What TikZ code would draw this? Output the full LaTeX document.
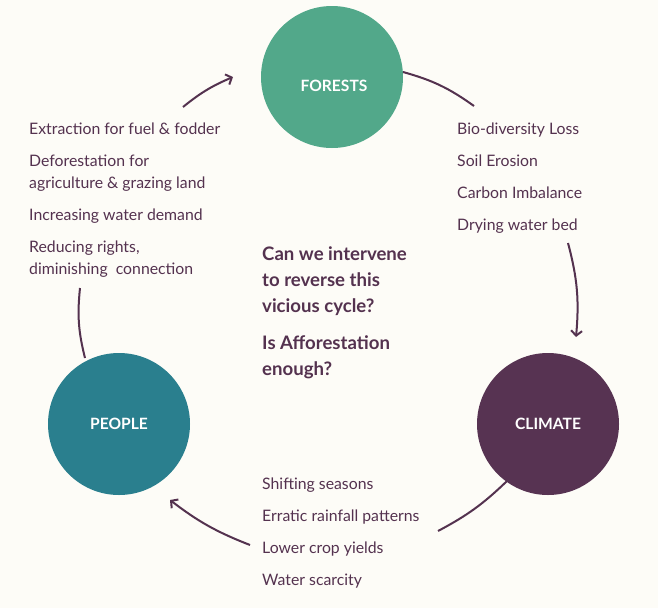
\documentclass[tikz,border=0pt]{standalone}
\usepackage{fontspec}
\setmainfont{Lato}
\usetikzlibrary{positioning, arrows.meta}
\definecolor{bgcream}{HTML}{FDFCF7}
\definecolor{forestgreen}{HTML}{52A88A}
\definecolor{peopleteal}{HTML}{2A7F8E}
\definecolor{climateplum}{HTML}{573352}
\definecolor{inkplum}{HTML}{54324F}
\tikzstyle{hub} = [circle, minimum size=142pt, inner sep=0pt, text=white, font=\bfseries\fontsize{15.6}{18}\selectfont]
\tikzstyle{item} = [anchor=base west, inner sep=0pt, align=left, text=inkplum, font=\fontsize{15.8}{22}\selectfont]
\tikzstyle{question} = [anchor=base west, inner sep=0pt, align=left, text=inkplum, font=\bfseries\fontsize{18.6}{26}\selectfont]
\tikzstyle{arrow} = [line width=2pt, draw=inkplum, -{Straight Barb[length=5pt, width=11pt, line width=2pt]}]
\tikzstyle{link} = [line width=2pt, draw=inkplum]

\begin{document}
\begin{tikzpicture}[x=1pt, y=-1pt]
        \useasboundingbox[fill=bgcream] (0,0) rectangle (658,608);
        %the three circles
        \node (forests) [hub, fill=forestgreen] at (332,77) {};
        \node (forestsText) [hub] at (334,86) {FORESTS};
        \node (climate) [hub, fill=climateplum] at (548,424) {CLIMATE};
        \node (people) [hub, fill=peopleteal] at (119,424) {PEOPLE};
        %what forests lose
        \node (loss) [item] at (457,134) {Bio-diversity Loss};
        \node (erosion) [item] at (457,166) {Soil Erosion};
        \node (carbon) [item] at (457,198) {Carbon Imbalance};
        \node (waterbed) [item] at (457,230) {Drying water bed};
        %what the climate does
        \node (seasons) [item] at (262,489) {Shifting seasons};
        \node (rainfall) [item] at (262,521) {Erratic rainfall patterns};
        \node (crops) [item] at (262,553) {Lower crop yields};
        \node (scarcity) [item] at (262,585) {Water scarcity};
        %what people do (base = last line)
        \node (extraction) [item] at (29,134) {Extraction for fuel \& fodder};
        \node (deforest) [item] at (29,188) {Deforestation for\\agriculture \& grazing land};
        \node (demand) [item] at (29,220) {Increasing water demand};
        \node (rights) [item] at (29,274) {Reducing rights,\\diminishing\ \ connection};
        %the question
        \node (intervene) [question] at (262,312) {Can we intervene\\to reverse this\\vicious cycle?};
        \node (enough) [question] at (262,375) {Is Afforestation\\enough?};
        %arrow ends
        \coordinate (a1) at (403,72);
        \coordinate (a2) at (474,106);
        \coordinate (b1) at (568,243);
        \coordinate (b2) at (576,337);
        \coordinate (c1) at (507,481);
        \coordinate (c2) at (438,531);
        \coordinate (d1) at (250,545);
        \coordinate (d2) at (170,500);
        \coordinate (e1) at (85,358);
        \coordinate (e2) at (80,288);
        \coordinate (f1) at (183,107);
        \coordinate (f2) at (233,77);
        %arrows
        \draw [link] (a1) to[bend left=10] (a2);
        \draw [arrow] (b1) to[bend left=10] (b2);
        \draw [link] (c1) to[bend left=8] (c2);
        \draw [arrow] (d1) to[bend left=8] (d2);
        \draw [link] (e1) to[bend left=10] (e2);
        \draw [arrow] (f1) to[bend left=8] (f2);
    \end{tikzpicture}
\end{document}
